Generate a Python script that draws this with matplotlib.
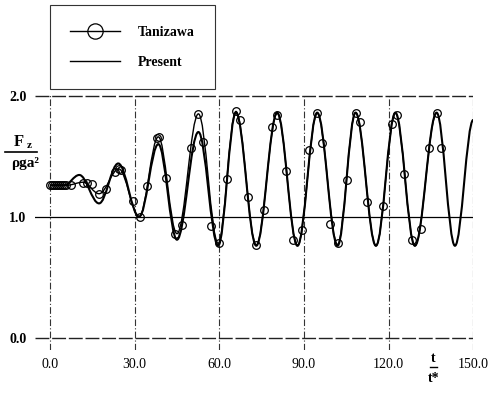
import matplotlib
matplotlib.use("Agg")
import matplotlib.pyplot as plt
from matplotlib.path import Path
from matplotlib.patches import PathPatch
from matplotlib.lines import Line2D

# extrema of the computed curve (present)
pres_t = [0, 5.0, 10.4, 17.4, 24.2, 31.6, 38.4, 45.0, 52.6, 59.6, 65.9, 73.1, 80.5,
          87.7, 94.7, 101.9, 108.3, 115.5, 122.4, 129.3, 137.0, 143.5, 150.0]
pres_v = [1.26, 1.26, 1.345, 1.11, 1.44, 1.00, 1.60, 0.81, 1.70, 0.76, 1.86, 0.76, 1.86,
          0.76, 1.86, 0.76, 1.86, 0.76, 1.86, 0.76, 1.86, 0.76, 1.80]

# extrema of the Tanizawa curve
tani_t = [0, 6.0, 11.7, 17.4, 24.4, 31.6, 38.4, 45.0, 52.6, 59.6, 65.9, 73.1, 80.5,
          87.7, 94.7, 101.9, 108.3, 115.5, 122.4, 129.3, 137.0]
tani_v = [1.26, 1.26, 1.285, 1.19, 1.395, 1.00, 1.66, 0.86, 1.85, 0.78, 1.87, 0.765, 1.855,
          0.76, 1.855, 0.77, 1.86, 0.76, 1.855, 0.76, 1.855]

# Tanizawa measured points
mark_t = [0, 0.7, 1.4, 2.1, 2.8, 3.5, 4.2, 4.9, 5.6, 7.3, 11.7, 13.3, 14.9, 17.4, 19.8,
          22.9, 24.3, 25.2, 29.4, 31.9, 34.3, 37.8, 38.8, 41.1, 44.4, 46.9, 50.0, 52.6,
          54.3, 57.0, 59.9, 62.8, 65.9, 67.5, 70.3, 73.0, 75.9, 78.8, 80.5, 83.5, 86.0,
          89.2, 91.9, 94.7, 96.3, 99.2, 102.1, 105.1, 108.3, 109.8, 112.4, 118.1, 121.1,
          123.0, 125.4, 128.3, 131.4, 134.3, 137.0, 138.6]
mark_v = [1.26, 1.26, 1.26, 1.26, 1.26, 1.26, 1.26, 1.26, 1.26, 1.265, 1.28, 1.275, 1.27,
          1.19, 1.23, 1.37, 1.395, 1.385, 1.13, 1.00, 1.25, 1.65, 1.655, 1.32, 0.855, 0.93,
          1.57, 1.85, 1.62, 0.92, 0.78, 1.31, 1.87, 1.80, 1.16, 0.765, 1.055, 1.74, 1.84,
          1.38, 0.81, 0.89, 1.55, 1.855, 1.61, 0.94, 0.78, 1.30, 1.86, 1.78, 1.12, 1.09,
          1.77, 1.84, 1.35, 0.81, 0.90, 1.57, 1.855, 1.57]

x_ticks = [0, 30, 60, 90, 120, 150]
x_labels = ["0.0", "30.0", "60.0", "90.0", "120.0", "150.0"]
y_ticks = [0, 1, 2]
y_labels = ["0.0", "1.0", "2.0"]

serif = ["Liberation Serif", "DejaVu Serif"]


def smooth_path(ts, vs):
    # cubic bezier between extrema, flat tangents at each extremum
    k = 0.363
    verts = [(ts[0], vs[0])]
    codes = [Path.MOVETO]
    for i in range(len(ts) - 1):
        d = ts[i + 1] - ts[i]
        verts += [(ts[i] + k * d, vs[i]), (ts[i + 1] - k * d, vs[i + 1]), (ts[i + 1], vs[i + 1])]
        codes += [Path.CURVE4] * 3
    return Path(verts, codes)


fig = plt.figure(figsize=(4.88, 3.93), dpi=100)
ax = fig.add_axes([35 / 488, 1 - 349.8 / 393, (473.3 - 35) / 488, (349.8 - 94.5) / 393])
ax.set_xlim(-5.3, 150)
ax.set_ylim(-0.1, 2.01)
for s in ax.spines.values():
    s.set_visible(False)

# frame / grid lines
for x in x_ticks:
    ax.axvline(x, color="#333333", lw=0.8, ls=(0, (6, 2, 1, 2)), zorder=1)
ax.axhline(2.0, color="#222222", lw=1.0, ls=(0, (10, 2)), zorder=1)
ax.axhline(0.0, color="#222222", lw=1.0, ls=(0, (10, 2)), zorder=1)
ax.axhline(1.0, color="black", lw=0.9, zorder=1)

ax.add_patch(PathPatch(smooth_path(tani_t, tani_v), fc="none", ec="black", lw=1.0, zorder=3))
ax.add_patch(PathPatch(smooth_path(pres_t, pres_v), fc="none", ec="black", lw=1.5, zorder=3))
ax.plot(mark_t, mark_v, "o", ms=5.5, mfc="none", mec="black", mew=0.9, zorder=4)

ax.set_xticks(x_ticks)
ax.set_xticklabels(x_labels, fontfamily=serif, fontsize=10)
ax.set_yticks(y_ticks)
ax.set_yticklabels(y_labels, fontfamily=serif, fontsize=10, fontweight="bold")
ax.tick_params(axis="both", length=0)
ax.tick_params(axis="x", pad=6)
ax.tick_params(axis="y", pad=6)

# y label: Fz / rho g a^2
fig.text(19 / 488, 1 - 142 / 393, "F", fontfamily=serif, fontsize=12, fontweight="bold",
         ha="center", va="center")
fig.text(29 / 488, 1 - 146 / 393, "z", fontfamily=serif, fontsize=8, fontweight="bold",
         ha="center", va="center")
fig.add_artist(Line2D([5 / 488, 37 / 488], [1 - 152 / 393, 1 - 152 / 393], color="black", lw=1.2))
fig.text(25 / 488, 1 - 164 / 393, "ρga²", fontfamily=serif, fontsize=11, fontweight="bold",
         ha="center", va="center")

# x label: t / t*
fig.text(433 / 488, 1 - 359 / 393, "t", fontfamily=serif, fontsize=10, fontweight="bold",
         ha="center", va="center")
fig.add_artist(Line2D([430 / 488, 437 / 488], [1 - 367 / 393, 1 - 367 / 393], color="black", lw=1.0))
fig.text(434 / 488, 1 - 378 / 393, "t*", fontfamily=serif, fontsize=10, fontweight="bold",
         ha="center", va="center")

handles = [Line2D([], [], color="black", lw=1.0, marker="o", ms=11, mfc="none", mec="black", mew=0.9),
           Line2D([], [], color="black", lw=1.0)]
leg = fig.legend(handles, ["Tanizawa", "Present"], loc="lower left",
                 bbox_to_anchor=(50 / 488, 1 - 89 / 393), borderaxespad=0,
                 prop={"family": serif, "size": 10, "weight": "bold"},
                 handlelength=3.6, handletextpad=1.3, borderpad=1.45, labelspacing=1.25,
                 numpoints=1, fancybox=False, framealpha=1)
leg.get_frame().set_edgecolor("#333333")
leg.get_frame().set_linewidth(0.8)

fig.savefig("out.png", dpi=100)
